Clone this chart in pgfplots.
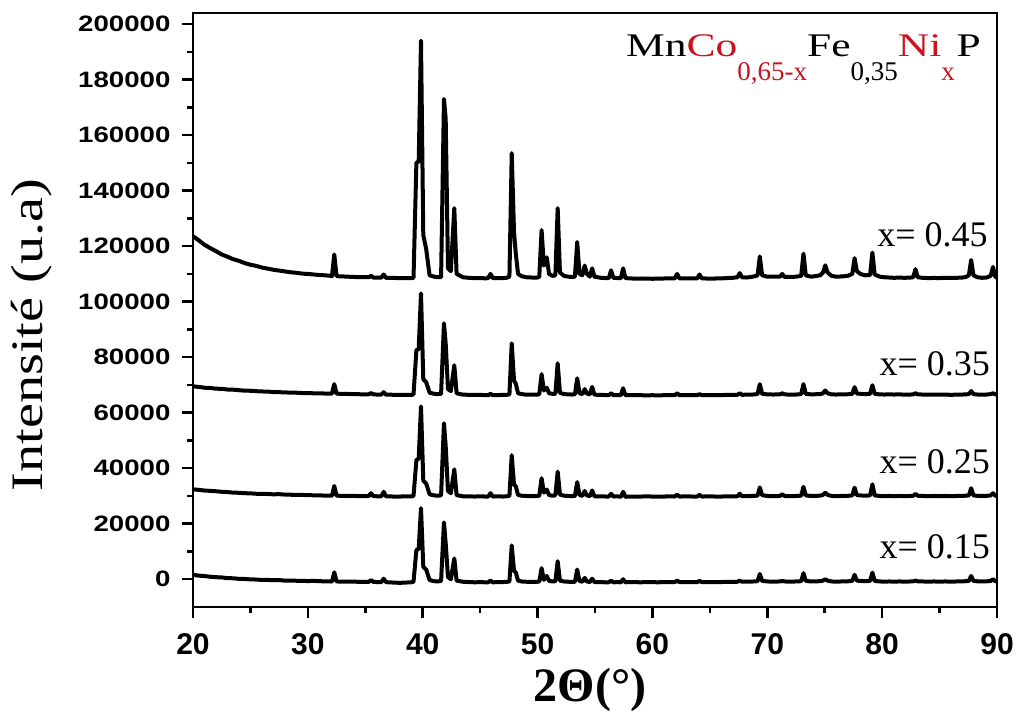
\documentclass[border=0pt]{standalone}
\usepackage{pgfplots}
\pgfplotsset{compat=1.18}
\usepackage{pgfplotstable}
\usepackage{graphicx}
\usepackage{fontspec}
\setmainfont{Liberation Serif}
\setsansfont{Liberation Sans}
\definecolor{myred}{RGB}{200,20,30}

\pgfplotstableread{
x a b c d
20.0 1600 32400 69500 123600
20.5 1300 32200 69300 122100
21.0 1150 31950 69000 120500
21.5 900 31850 68900 119300
22.0 750 31700 68650 118200
22.5 650 31500 68600 117000
23.0 400 31400 68350 116200
23.5 350 31200 68300 115300
24.0 150 31150 68100 114700
24.5 100 31000 67950 113900
25.0 -50 30950 67900 113300
25.5 -100 30800 67750 112900
26.0 -250 30800 67650 112300
26.5 -250 30700 67600 111900
27.0 -350 30600 67450 111500
27.5 -300 30650 67400 111200
28.0 -500 30500 67300 110900
28.5 -450 30450 67250 110600
29.0 -550 30350 67200 110400
29.5 -600 30400 67100 110100
30.0 -650 30300 67050 110000
30.5 -600 30250 67000 109800
31.0 -700 30200 67000 109600
31.5 -750 30150 66900 109500
32.0 -800 30100 66900 109300
32.1 -850 30100 66900 109200
32.3 2500 33600 70300 117000
32.5 -800 30100 66850 109200
33.0 -850 30050 66800 109100
33.5 -900 30000 66750 109000
34.0 -850 30050 66700 108900
34.5 -950 29950 66650 108850
35.0 -900 30000 66600 108800
35.3 -950 29950 66600 108800
35.5 -300 31000 67100 109300
35.7 -950 29950 66600 108700
36.0 -1000 29900 66550 108700
36.4 -1000 29900 66550 108650
36.6 200 31500 67400 109800
36.8 -1000 29900 66500 108600
37.0 -1100 29850 66500 108600
37.5 -1200 29800 66450 108550
38.0 -1300 29800 66400 108500
38.5 -1200 29850 66400 108500
39.0 -1100 29850 66400 108500
39.2 -900 30000 66600 108600
39.45 10500 42900 82500 150000
39.65 11000 43500 83000 150500
39.85 25600 62300 103000 194000
40.05 4500 35500 72000 124000
40.3 3500 34500 71000 119000
40.6 -300 30600 67200 109500
41.0 -700 30200 66800 109000
41.3 -800 30100 66700 108800
41.6 -600 30200 66800 108800
41.85 20500 56200 92200 173000
42.0 13000 48000 85000 166000
42.2 800 31800 68500 112000
42.45 0 31000 67800 111000
42.75 7500 39600 77100 133700
42.95 -500 30300 67000 110000
43.5 -900 29900 66500 108800
44.0 -1000 29850 66450 108600
44.5 -1100 29800 66400 108500
45.0 -1050 29850 66400 108500
45.5 -1100 29800 66350 108400
45.7 -1100 29800 66300 108500
45.9 -500 31000 66800 110000
46.1 -1100 29800 66300 108500
46.5 -1050 29850 66350 108450
47.0 -1000 29800 66400 108500
47.3 -950 29900 66450 108600
47.55 -800 30000 66600 109000
47.75 12200 44700 85000 153500
47.95 3000 34000 71500 125000
48.1 2500 33500 70500 117500
48.3 -500 30400 67000 110000
48.6 -800 30100 66700 109200
49.0 -900 30000 66500 108800
49.5 -950 29950 66500 108700
50.0 -900 30000 66500 108700
50.15 -800 30100 66700 109000
50.35 4000 36400 73900 125800
50.55 -200 31200 68000 113000
50.8 1200 32300 69000 116000
51.0 -600 30300 67000 110000
51.3 -800 30100 66800 109300
51.55 -700 30200 66800 109500
51.75 6500 38800 77800 133700
51.95 -500 30500 67200 110500
52.3 -800 30100 66700 109300
52.7 -900 30000 66600 109000
53.0 -950 29950 66550 108900
53.25 -900 30000 66600 109000
53.45 3500 35000 72400 121500
53.65 -600 30400 67000 110000
53.9 -900 30000 66700 109500
54.1 500 31800 68500 113000
54.3 -800 30200 66900 110000
54.55 -1000 29900 66600 109000
54.75 200 32000 69300 112000
54.95 -1000 29900 66500 109000
55.5 -1050 29850 66400 108600
56.0 -1100 29800 66350 108500
56.2 -1100 29800 66300 108500
56.4 -500 30800 67000 111300
56.6 -1100 29800 66300 108600
57.0 -1050 29850 66350 108500
57.25 -1100 29700 66300 108500
57.45 0 31500 68800 112000
57.65 -1100 29700 66300 108500
58.0 -1000 29800 66350 108400
58.5 -1050 29750 66300 108300
59.0 -1100 29800 66300 108350
59.5 -1000 29850 66250 108300
60.0 -1050 29800 66300 108250
60.5 -1100 29750 66250 108300
61.0 -1000 29800 66300 108350
61.5 -1050 29850 66300 108400
61.95 -1000 29800 66300 108400
62.15 -500 30500 67000 110000
62.35 -1000 29800 66300 108400
63.0 -1050 29850 66350 108350
63.5 -1000 29800 66300 108400
63.9 -1050 29800 66300 108400
64.1 -600 30400 66700 109800
64.3 -1050 29800 66300 108400
65.0 -1000 29850 66350 108300
65.5 -1050 29800 66300 108350
66.0 -1000 29800 66350 108400
66.5 -950 29850 66400 108500
67.0 -950 29900 66400 108600
67.4 -900 29900 66450 108800
67.6 -500 30800 67000 110300
67.8 -900 29900 66450 108800
68.2 -900 29950 66500 108700
68.6 -850 30000 66500 108900
69.15 -700 30100 66700 109400
69.35 1900 33100 70300 116300
69.55 -600 30300 66800 109500
70.0 -800 30000 66600 109000
70.5 -850 29950 66550 109000
71.1 -800 30000 66600 109000
71.3 -600 30600 67000 110000
71.5 -800 30000 66600 108900
72.0 -850 29950 66500 108900
72.5 -800 30000 66550 109000
72.95 -700 30100 66700 109300
73.15 2200 33300 70300 117300
73.35 -600 30200 66800 109500
73.8 -800 30000 66600 109000
74.2 -750 30050 66650 109200
74.6 -700 30100 66700 109500
74.85 -500 30400 67000 110500
75.05 0 31200 68000 113100
75.25 -500 30400 67000 110500
75.6 -800 30000 66600 109300
76.0 -850 29950 66550 109000
76.5 -800 30000 66600 109100
77.0 -750 30050 66650 109300
77.4 -600 30200 66800 110000
77.6 1600 33000 69200 115700
77.8 -500 30300 66900 111000
78.1 -600 30200 66800 110000
78.5 -700 30100 66700 109500
78.95 -600 30200 66800 109600
79.15 2400 34200 69900 117700
79.35 -600 30200 66800 109800
79.8 -800 30000 66600 109000
80.2 -850 29950 66550 108800
80.6 -800 30000 66600 108700
81.0 -850 29950 66550 108600
81.5 -800 30000 66600 108650
82.0 -850 29950 66500 108600
82.5 -800 30000 66550 108700
82.7 -750 30050 66600 108800
82.9 -500 30800 67000 111700
83.1 -750 30050 66600 108800
83.5 -800 30000 66550 108600
84.0 -850 29950 66500 108500
84.5 -800 30000 66550 108550
85.0 -850 29950 66500 108500
85.5 -800 30000 66500 108600
86.0 -850 29950 66450 108550
86.5 -800 30000 66500 108600
87.0 -750 30050 66550 108700
87.3 -700 30100 66600 108900
87.55 -600 30200 66700 109500
87.75 1200 32800 67800 115000
87.95 -600 30200 66700 109500
88.3 -750 30050 66550 108800
88.7 -800 30000 66500 108600
89.1 -750 30050 66550 108700
89.45 -600 30200 66700 109300
89.65 0 31000 67000 112500
89.85 -700 30100 66600 109000
90.0 -800 30000 66500 108600
}\xrd

\begin{document}
\begin{tikzpicture}
\useasboundingbox (0,0) rectangle (1019pt,721pt);
\begin{axis}[
  at={(193pt,114pt)}, anchor=south west,
  scale only axis, width=804pt, height=594pt,
  xmin=20, xmax=90, ymin=-10000, ymax=204000,
  xtick={20,30,...,90}, ytick={0,20000,...,200000},
  minor x tick num=1, minor y tick num=1,
  tick pos=left, tick align=outside,
  major tick length=11pt, minor tick length=6pt,
  axis line style={line width=2.5pt},
  every tick/.style={line width=2.5pt, black},
  scaled y ticks=false,
  /pgf/number format/fixed,
  /pgf/number format/precision=0,
  /pgf/number format/1000 sep={},
  /pgf/number format/assume math mode=true,
  xticklabel style={font=\fontsize{30}{30}\selectfont\sffamily\bfseries, yshift=-12pt},
  yticklabel style={font=\fontsize{22.3}{22}\selectfont\sffamily\bfseries, xshift=-8pt},
  yticklabel={\scalebox{1.24}[1]{\pgfmathprintnumber{\tick}}},
  xlabel={2Θ(°)},
  xlabel style={font=\fontsize{48}{48}\selectfont\bfseries, at={(rel axis cs:0.494,-0.14)}, anchor=center},
  ylabel={\scalebox{1.25}[1]{Intensité (u.a)}},
  ylabel style={font=\fontsize{45}{45}\selectfont, at={(rel axis cs:-0.201,0.458)}, anchor=center, rotate=0},
  clip=true,
]
\addplot[black, line width=4pt, line join=round] table[x=x, y=a] {\xrd};
\addplot[black, line width=4pt, line join=round] table[x=x, y=b] {\xrd};
\addplot[black, line width=4pt, line join=round] table[x=x, y=c] {\xrd};
\addplot[black, line width=4pt, line join=round] table[x=x, y=d] {\xrd};
\node[anchor=base east, inner sep=0, font=\fontsize{36}{36}\selectfont] at (axis cs:89.4,7600) {x= 0.15};
\node[anchor=base east, inner sep=0, font=\fontsize{36}{36}\selectfont] at (axis cs:89.4,38200) {x= 0.25};
\node[anchor=base east, inner sep=0, font=\fontsize{36}{36}\selectfont] at (axis cs:89.4,73500) {x= 0.35};
\node[anchor=base east, inner sep=0, font=\fontsize{36}{36}\selectfont] at (axis cs:89.2,120000) {x= 0.45};
\node[anchor=base east, inner sep=0] at (axis cs:88.6,188500) {%
\scalebox{1.45}[1.1]{\fontsize{30}{30}\selectfont Mn\textcolor{myred}{Co}}%
\raisebox{-24pt}{\fontsize{27}{27}\selectfont\textcolor{myred}{0,65-x}}%
\scalebox{1.45}[1.1]{\fontsize{30}{30}\selectfont Fe}%
\raisebox{-24pt}{\fontsize{27}{27}\selectfont 0,35}%
\scalebox{1.45}[1.1]{\fontsize{30}{30}\selectfont\textcolor{myred}{Ni}}%
\raisebox{-24pt}{\fontsize{27}{27}\selectfont\textcolor{myred}{x}}%
\,\scalebox{1.45}[1.1]{\fontsize{30}{30}\selectfont P}};
\end{axis}
\end{tikzpicture}
\end{document}
